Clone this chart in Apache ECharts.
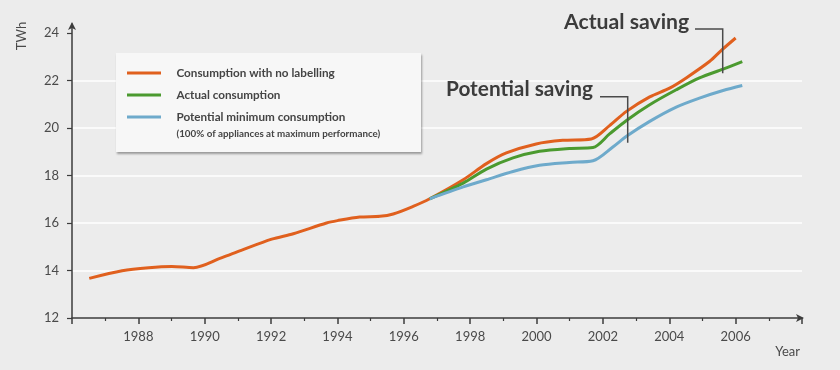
<!DOCTYPE html>
<html><head><meta charset="utf-8">
<script src="https://cdn.jsdelivr.net/npm/echarts@6/dist/echarts.min.js"></script>
<style>html,body{margin:0;padding:0;background:#ececec}#c{width:840px;height:370px}</style>
</head><body><div id="c"></div>
<script>
// ---- data ----
const seriesNames = ['Consumption with no labelling', 'Actual consumption', 'Potential minimum consumption'];
const legendNote = '(100% of appliances at maximum performance)';
const xTickLabels = [1988, 1990, 1992, 1994, 1996, 1998, 2000, 2002, 2004, 2006];
const yTickLabels = [12, 14, 16, 18, 20, 22, 24];

const noLabelYears  = [1986.52, 1987.51, 1988.31, 1989.01, 1989.66, 1990.5, 1991.1, 1992.02, 1992.67, 1993.67, 1994.0, 1994.67, 1995.28, 1995.68, 1996.28, 1996.78, 1997.79, 1998.49, 1999.09, 1999.99, 2000.79, 2001.65, 2002.2, 2002.71, 2003.41, 2004.01, 2004.51, 2005.22, 2005.57, 2006.0];
const noLabelValues = [13.67, 13.99, 14.12, 14.17, 14.12, 14.53, 14.85, 15.32, 15.55, 16.0, 16.1, 16.25, 16.28, 16.38, 16.70, 17.02, 17.82, 18.5, 18.95, 19.33, 19.48, 19.54, 20.1, 20.70, 21.31, 21.68, 22.11, 22.81, 23.27, 23.79];

const actualYears  = [1996.78, 1997.79, 1998.49, 1999.29, 2000.09, 2000.99, 2001.7, 2002.2, 2002.71, 2003.41, 2004.21, 2004.91, 2005.62, 2006.2];
const actualValues = [17.02, 17.68, 18.27, 18.74, 19.02, 19.14, 19.18, 19.75, 20.32, 20.98, 21.61, 22.11, 22.48, 22.80];

const minimumYears  = [1996.78, 1997.79, 1998.49, 1999.29, 2000.09, 2000.99, 2001.7, 2002.3, 2002.71, 2003.41, 2004.21, 2004.91, 2005.62, 2006.2];
const minimumValues = [17.02, 17.52, 17.82, 18.17, 18.43, 18.55, 18.62, 19.2, 19.65, 20.28, 20.88, 21.26, 21.58, 21.79];

const zip = (xs, ys) => xs.map((x, i) => [x, ys[i]]);

const chart = echarts.init(document.getElementById('c'), null, {renderer: 'canvas'});
const FONT = 'Lato';
const axisColor = '#3c3c3c';
const labelColor = '#4a4a4a';

function lineSeries(name, data, color, z) {
  return {
    name, type: 'line', data, showSymbol: false, symbol: 'none',
    smooth: 0.3, z,
    lineStyle: {color, width: 3},
    itemStyle: {color},
    emphasis: {disabled: true}
  };
}

chart.setOption({
  backgroundColor: '#ececec',
  animation: false,
  textStyle: {fontFamily: FONT},
  grid: {left: 72, right: 38, top: 24, bottom: 52, containLabel: false},
  xAxis: {
    type: 'value', min: 1986, max: 2008, interval: 2,
    name: 'Year', nameLocation: 'end', nameGap: -2,
    nameTextStyle: {fontFamily: FONT, fontSize: 13, color: labelColor, align: 'right', verticalAlign: 'top', padding: [27, 0, 0, 0]},
    axisLine: {show: true, lineStyle: {color: axisColor, width: 1.5}, symbol: ['none', 'arrow'], symbolSize: [6, 8], symbolOffset: [0, 2]},
    axisTick: {show: true, inside: false, length: 6, lineStyle: {color: axisColor, width: 1.5}},
    minorTick: {show: true, splitNumber: 2, length: 3, lineStyle: {color: axisColor, width: 1.2}},
    axisLabel: {customValues: xTickLabels, fontFamily: FONT, fontSize: 13, color: labelColor, margin: 12, formatter: v => String(v)},
    splitLine: {show: false}
  },
  yAxis: {
    type: 'value', min: 12, max: 24.38, interval: 2,
    axisLine: {show: true, lineStyle: {color: axisColor, width: 1.5}, symbol: ['none', 'arrow'], symbolSize: [6, 8], symbolOffset: [0, 2]},
    axisTick: {show: true, customValues: yTickLabels, length: 5, lineStyle: {color: axisColor, width: 1.2}},
    axisLabel: {customValues: yTickLabels, fontFamily: FONT, fontSize: 13, color: labelColor, margin: 13},
    splitLine: {show: true, showMinLine: false, showMaxLine: false, lineStyle: {color: '#ffffff', width: 1.5}}
  },
  legend: {
    orient: 'vertical', left: 127, top: 66, z: 6, padding: 0,
    itemWidth: 34, itemHeight: 3, itemGap: 8, icon: 'rect',
    selectedMode: false,
    textStyle: {fontFamily: FONT, fontWeight: 'bold', fontSize: 11.7, color: '#444', lineHeight: 14, padding: [0, 0, 0, 10.5]},
    data: seriesNames
  },
  graphic: [
    {type: 'rect', z: 5, shape: {x: 116, y: 53, width: 305, height: 99},
     style: {fill: '#f7f7f7', shadowBlur: 2, shadowColor: 'rgba(0,0,0,0.35)', shadowOffsetX: 1, shadowOffsetY: 1.5}},
    {type: 'text', z: 7, x: 176.5, y: 133.5,
     style: {text: legendNote, fontFamily: FONT, fontWeight: 'bold', fontSize: 9.8, fill: '#444', verticalAlign: 'middle'}},
    {type: 'text', z: 7, x: 22, y: 36, rotation: Math.PI / 2,
     style: {text: 'TWh', fontFamily: FONT, fontSize: 13, fill: labelColor, align: 'center', verticalAlign: 'middle'}},
    {type: 'text', z: 7, x: 446, y: 89.5,
     style: {text: 'Potential saving', fontFamily: FONT, fontWeight: 'bold', fontSize: 20.8, fill: '#3c3c3c', verticalAlign: 'middle'}},
    {type: 'text', z: 7, x: 564, y: 22,
     style: {text: 'Actual saving', fontFamily: FONT, fontWeight: 'bold', fontSize: 21.2, fill: '#3c3c3c', verticalAlign: 'middle'}},
    {type: 'polyline', z: 7, shape: {points: [[600, 96.7], [627.7, 96.7], [627.7, 142.7]]},
     style: {stroke: '#4a4a4a', lineWidth: 1.5, fill: null}},
    {type: 'polyline', z: 7, shape: {points: [[695, 29], [722.7, 29], [722.7, 73.3]]},
     style: {stroke: '#4a4a4a', lineWidth: 1.5, fill: null}}
  ],
  series: [
    lineSeries(seriesNames[0], zip(noLabelYears, noLabelValues), '#e0601e', 2),
    lineSeries(seriesNames[1], zip(actualYears, actualValues), '#4b9a2f', 3),
    lineSeries(seriesNames[2], zip(minimumYears, minimumValues), '#6eaacb', 4)
  ]
});
</script>
</body></html>
